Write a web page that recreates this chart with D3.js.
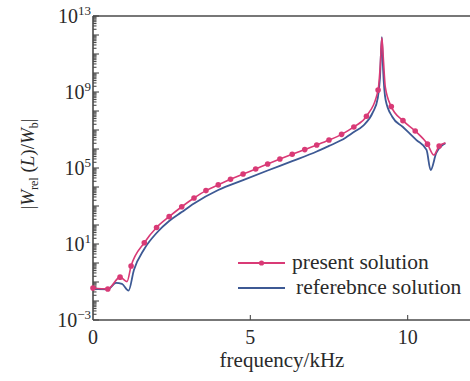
<!DOCTYPE html>
<html>
<head>
<meta charset="utf-8">
<script src="https://cdn.jsdelivr.net/npm/d3@7/dist/d3.min.js"></script>
<style>
  html, body { margin: 0; padding: 0; background: #fff; }
  svg { display: block; }
</style>
</head>
<body>
<svg id="chart" width="470" height="381"></svg>
<script>
// Present solution (line through all points, markers where presentMarked = 1)
const presentFreq = [0, 0.47, 0.86, 1.08, 1.21, 1.63, 2.02, 2.42, 2.82, 3.21, 3.59, 3.98, 4.37, 4.77,
  5.17, 5.55, 5.94, 6.33, 6.73, 7.11, 7.50, 7.90, 8.29, 8.69, 9.06, 9.13, 9.18, 9.22, 9.29,
  9.48, 9.85, 10.24, 10.63, 10.83, 11.0, 11.2];
const presentVal = [0.048, 0.043, 0.18, 0.105, 0.69, 11.7, 74, 275, 912, 2630, 6460, 1.29e4, 2.57e4, 4.79e4,
  8.9e4, 1.62e5, 2.95e5, 5.25e5, 9.3e5, 1.62e6, 2.95e6, 5.9e6, 1.45e7, 5.25e7, 1.26e9, 2.6e10, 7.2e11, 8.9e10, 1.8e9,
  1.7e8, 3.1e7, 8.9e6, 1.8e6, 4.8e5, 1.44e6, 2.1e6];
const presentMarked = [1, 1, 1, 0, 1, 1, 1, 1, 1, 1, 1, 1, 1, 1,
  1, 1, 1, 1, 1, 1, 1, 1, 1, 1, 1, 0, 0, 0, 0,
  1, 1, 1, 1, 0, 1, 0];

// Reference solution
const referenceFreq = [0, 0.47, 0.73, 0.92, 1.13, 1.30, 1.63, 2.02, 2.42, 2.82, 3.21, 3.98, 4.77, 5.55,
  6.33, 7.11, 7.50, 7.90, 8.29, 8.57, 8.90, 9.05, 9.12, 9.18, 9.22, 9.30, 9.51, 9.84,
  10.28, 10.60, 10.73, 10.91, 11.2];
const referenceVal = [0.043, 0.041, 0.089, 0.079, 0.035, 0.43, 5.5, 38, 162, 479, 1350, 6900, 2.3e4, 7.4e4,
  2.3e5, 7.4e5, 1.45e6, 2.95e6, 7.8e6, 1.6e7, 8.9e7, 4.8e8, 5.5e9, 7.8e11, 1.45e10, 3.8e8, 5.0e7, 1.48e7,
  2.95e6, 8.9e5, 7.8e4, 6.2e5, 2.0e6];

const xTicks = [0, 5, 10];
const yLabelExps = [-3, 1, 5, 9, 13];
const seriesNames = ["present solution", "referebnce solution"];
const seriesColors = ["#d93a76", "#3d5994"];

const serif = "'Times New Roman', 'Liberation Serif', Tinos, 'DejaVu Serif', serif";
const textColor = "#2a2a2a";

const svg = d3.select("#chart");
const x = d3.scaleLinear().domain([0, 12]).range([93, 470.6]);
const y = d3.scaleLog().domain([1e-3, 1e13]).range([320, 16]);

const axisColor = "#4a4a4a";
const g = svg.append("g").attr("font-family", serif).attr("fill", textColor);

// Frame: left, top and bottom lines
g.append("line").attr("x1", x(0)).attr("x2", x(0)).attr("y1", y(1e13)).attr("y2", y(1e-3))
  .attr("stroke", axisColor).attr("stroke-width", 1.6);
g.append("line").attr("x1", x(0)).attr("x2", 470).attr("y1", y(1e13)).attr("y2", y(1e13))
  .attr("stroke", axisColor).attr("stroke-width", 1.6);
g.append("line").attr("x1", x(0)).attr("x2", 470).attr("y1", y(1e-3)).attr("y2", y(1e-3))
  .attr("stroke", axisColor).attr("stroke-width", 1.6);

// Y ticks: major at each decade, minor at 2..9
const yTickVals = [];
for (let e = -3; e <= 13; e++) {
  yTickVals.push({ v: Math.pow(10, e), major: true });
  if (e < 13) for (let m = 2; m <= 9; m++) yTickVals.push({ v: m * Math.pow(10, e), major: false });
}
g.selectAll(".ytick").data(yTickVals).enter().append("line")
  .attr("x1", x(0)).attr("x2", d => x(0) + (d.major ? 6 : 3.5))
  .attr("y1", d => y(d.v)).attr("y2", d => y(d.v))
  .attr("stroke", axisColor).attr("stroke-width", 1.1);

// Y tick labels with superscript exponents
const yl = g.selectAll(".ylab").data(yLabelExps).enter().append("text")
  .attr("x", x(0) - 2).attr("y", d => y(Math.pow(10, d)) + 7)
  .attr("text-anchor", "end").attr("font-size", 20);
yl.append("tspan").text("10");
yl.append("tspan").attr("dy", -8).attr("font-size", 13)
  .text(d => d < 0 ? "\u2212" + Math.abs(d) : String(d));

// X ticks (inward) and labels
g.selectAll(".xtick").data(xTicks.filter(d => d > 0)).enter().append("line")
  .attr("x1", d => x(d)).attr("x2", d => x(d))
  .attr("y1", y(1e-3)).attr("y2", y(1e-3) - 5)
  .attr("stroke", axisColor).attr("stroke-width", 1.1);
g.selectAll(".xlab").data(xTicks).enter().append("text")
  .attr("x", d => x(d)).attr("y", 344).attr("text-anchor", "middle")
  .attr("font-size", 20).text(d => d);

// Axis titles
g.append("text").attr("x", 282).attr("y", 367).attr("text-anchor", "middle")
  .attr("font-size", 21).text("frequency/kHz");

const yt = g.append("text").attr("transform", "translate(34,164) rotate(-90)")
  .attr("text-anchor", "middle").attr("font-size", 19);
yt.append("tspan").text("|");
yt.append("tspan").attr("font-style", "italic").text("W");
yt.append("tspan").attr("dy", 4).attr("font-size", 12).text("rel");
yt.append("tspan").attr("dy", -4).text(" (");
yt.append("tspan").attr("font-style", "italic").text("L");
yt.append("tspan").text(")/");
yt.append("tspan").attr("font-style", "italic").text("W");
yt.append("tspan").attr("dy", 4).attr("font-size", 12).text("b");
yt.append("tspan").attr("dy", -4).text("|");

// Curves
const line = d3.line().x(d => x(d[0])).y(d => y(d[1])).curve(d3.curveMonotoneX);
const refPts = referenceFreq.map((f, i) => [f, referenceVal[i]]);
const presPts = presentFreq.map((f, i) => [f, presentVal[i]]);

g.append("path").attr("d", line(refPts)).attr("fill", "none")
  .attr("stroke", seriesColors[1]).attr("stroke-width", 1.8).attr("stroke-linejoin", "round");
g.append("path").attr("d", line(presPts)).attr("fill", "none")
  .attr("stroke", seriesColors[0]).attr("stroke-width", 1.6).attr("stroke-linejoin", "round");
g.selectAll(".mk").data(presPts.filter((d, i) => presentMarked[i])).enter().append("circle")
  .attr("cx", d => x(d[0])).attr("cy", d => y(d[1])).attr("r", 2.8)
  .attr("fill", seriesColors[0]);

// Legend
const legend = g.append("g");
const legendY = [263, 288];
seriesNames.forEach((name, i) => {
  legend.append("line").attr("x1", 238).attr("x2", 285)
    .attr("y1", legendY[i]).attr("y2", legendY[i])
    .attr("stroke", seriesColors[i]).attr("stroke-width", 1.8);
  if (i === 0) legend.append("circle").attr("cx", 261.5).attr("cy", legendY[i]).attr("r", 2.6)
    .attr("fill", seriesColors[i]);
  legend.append("text").attr("x", i === 0 ? 292 : 296).attr("y", legendY[i] + 6)
    .attr("font-size", 21.5).text(name);
});
</script>
</body>
</html>
